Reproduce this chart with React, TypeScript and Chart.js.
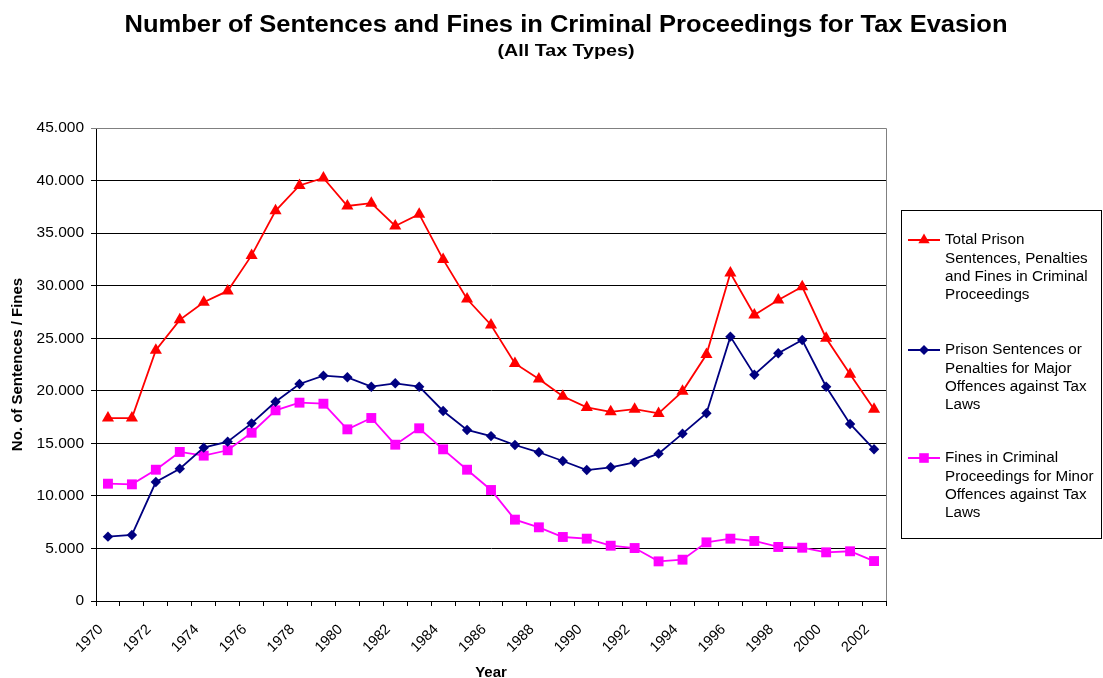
import React, { useEffect, useRef } from 'react';
import { Chart, registerables } from 'chart.js';

Chart.register(...registerables);

const years = [
  '1970', '1971', '1972', '1973', '1974', '1975', '1976', '1977', '1978', '1979', '1980',
  '1981', '1982', '1983', '1984', '1985', '1986', '1987', '1988', '1989', '1990', '1991',
  '1992', '1993', '1994', '1995', '1996', '1997', '1998', '1999', '2000', '2001', '2002',
];

const totalSentences = [
  17400, 17400, 23850, 26750, 28430, 29500, 32880, 37120, 39530, 40250, 37580,
  37850, 35680, 36800, 32500, 28730, 26260, 22600, 21120, 19480, 18420, 18000,
  18250, 17850, 19950, 23450, 31200, 27210, 28640, 29890, 25000, 21580, 18250,
];

const majorOffences = [
  6120, 6280, 11320, 12590, 14590, 15160, 16900, 18960, 20650, 21440, 21280,
  20390, 20710, 20390, 18080, 16270, 15690, 14840, 14150, 13320, 12460, 12720,
  13190, 14020, 15920, 17860, 25150, 21530, 23570, 24830, 20390, 16840, 14430,
];

const minorOffences = [
  11160, 11100, 12490, 14180, 13830, 14340, 16010, 18140, 18870, 18770, 16330,
  17410, 14870, 16430, 14430, 12490, 10560, 7740, 7010, 6090, 5930, 5260,
  5040, 3770, 3930, 5580, 5930, 5710, 5140, 5070, 4630, 4730, 3800,
];

const seriesNames = [
  ['Total Prison', 'Sentences, Penalties', 'and Fines in Criminal', 'Proceedings'],
  ['Prison Sentences or', 'Penalties for Major', 'Offences against Tax', 'Laws'],
  ['Fines in Criminal', 'Proceedings for Minor', 'Offences against Tax', 'Laws'],
];

const chartTitle = 'Number of Sentences and Fines in Criminal Proceedings for Tax Evasion';
const chartSubtitle = '(All Tax Types)';
const xAxisTitle = 'Year';
const yAxisTitle = 'No. of Sentences / Fines';

const FONT = '"Liberation Sans", Arial, Helvetica, sans-serif';

function drawMarker(ctx: CanvasRenderingContext2D, style: string, x: number, y: number, color: string) {
  ctx.save();
  ctx.fillStyle = color;
  ctx.beginPath();
  if (style === 'triangle') {
    const r = 6.5;
    ctx.moveTo(x, y - r);
    ctx.lineTo(x + r * 0.866, y + r * 0.5);
    ctx.lineTo(x - r * 0.866, y + r * 0.5);
    ctx.closePath();
  } else if (style === 'rectRot') {
    const r = 5;
    ctx.moveTo(x, y - r);
    ctx.lineTo(x + r, y);
    ctx.lineTo(x, y + r);
    ctx.lineTo(x - r, y);
    ctx.closePath();
  } else {
    const s = 4.8;
    ctx.rect(x - s, y - s, 2 * s, 2 * s);
  }
  ctx.fill();
  ctx.restore();
}

function drawStretchedText(ctx: CanvasRenderingContext2D, text: string, font: string, cx: number, cy: number, targetWidth: number) {
  ctx.save();
  ctx.font = font;
  ctx.textAlign = 'center';
  ctx.textBaseline = 'middle';
  ctx.fillStyle = '#000';
  const w = ctx.measureText(text).width;
  const sx = w > 0 ? targetWidth / w : 1;
  ctx.translate(cx, cy);
  ctx.scale(sx, 1);
  ctx.fillText(text, 0, 0);
  ctx.restore();
}

const titlePlugin = {
  id: 'customTitle',
  afterDraw(chart: any) {
    const ctx = chart.ctx as CanvasRenderingContext2D;
    drawStretchedText(ctx, chartTitle, `bold 23px ${FONT}`, 566, 26, 883);
    drawStretchedText(ctx, chartSubtitle, `bold 16px ${FONT}`, 566, 52, 137);
  },
};

const borderPlugin = {
  id: 'plotBorder',
  beforeDatasetsDraw(chart: any) {
    const { ctx, chartArea } = chart;
    ctx.save();
    ctx.strokeStyle = '#808080';
    ctx.lineWidth = 1;
    ctx.beginPath();
    ctx.moveTo(chartArea.left, chartArea.top + 0.5);
    ctx.lineTo(chartArea.right + 0.5, chartArea.top + 0.5);
    ctx.lineTo(chartArea.right + 0.5, chartArea.bottom);
    ctx.stroke();
    ctx.restore();
  },
};

const legendPlugin = {
  id: 'customLegend',
  afterDraw(chart: any) {
    const ctx = chart.ctx as CanvasRenderingContext2D;
    const boxX = 901.5, boxY = 210.5, boxW = 200, boxH = 328;
    ctx.save();
    ctx.strokeStyle = '#000';
    ctx.lineWidth = 1;
    ctx.strokeRect(boxX, boxY, boxW, boxH);
    const startYs = [240, 350, 458];
    const lineH = 18.4;
    chart.data.datasets.forEach((ds: any, i: number) => {
      const y = startYs[i];
      ctx.strokeStyle = ds.borderColor;
      ctx.lineWidth = 2;
      ctx.beginPath();
      ctx.moveTo(908, y);
      ctx.lineTo(940, y);
      ctx.stroke();
      drawMarker(ctx, ds.pointStyle, 924, y, ds.borderColor);
      ctx.fillStyle = '#000';
      ctx.font = `15.2px ${FONT}`;
      ctx.textAlign = 'left';
      ctx.textBaseline = 'middle';
      seriesNames[i].forEach((line, j) => {
        ctx.fillText(line, 945, y + j * lineH);
      });
    });
    ctx.restore();
  },
};

export default function App() {
  const canvasRef = useRef<HTMLCanvasElement | null>(null);

  useEffect(() => {
    if (!canvasRef.current) return;
    Chart.defaults.font.family = FONT;
    Chart.defaults.color = '#000';
    const chart = new Chart(canvasRef.current, {
      type: 'line',
      data: {
        labels: years,
        datasets: [
          {
            label: seriesNames[0].join(' '),
            data: totalSentences,
            borderColor: '#FF0000',
            backgroundColor: '#FF0000',
            pointStyle: 'triangle',
            pointRadius: 7,
            pointBorderWidth: 0,
            borderWidth: 1.8,
          },
          {
            label: seriesNames[1].join(' '),
            data: majorOffences,
            borderColor: '#000080',
            backgroundColor: '#000080',
            pointStyle: 'rectRot',
            pointRadius: 5.2,
            pointBorderWidth: 0,
            borderWidth: 1.8,
          },
          {
            label: seriesNames[2].join(' '),
            data: minorOffences,
            borderColor: '#FF00FF',
            backgroundColor: '#FF00FF',
            pointStyle: 'rect',
            pointRadius: 7,
            pointBorderWidth: 0,
            borderWidth: 1.8,
          },
        ],
      },
      options: {
        responsive: false,
        animation: false,
        layout: { padding: { top: 128, right: 217, bottom: 0, left: 0 } },
        plugins: {
          legend: { display: false },
          title: { display: false },
          tooltip: { enabled: false },
        },
        scales: {
          x: {
            offset: true,
            afterFit: (scale: any) => { scale.height = 77; },
            grid: {
              display: true,
              drawOnChartArea: false,
              drawTicks: true,
              tickLength: 5,
              color: '#000',
              offset: true,
            },
            border: { display: true, color: '#000', width: 1 },
            ticks: {
              autoSkip: false,
              maxRotation: 45,
              minRotation: 45,
              padding: 15,
              labelOffset: -7,
              font: { size: 14.5 },
              callback: (_v: any, i: number) => (i % 2 === 0 ? years[i] : ''),
            },
            title: {
              display: true,
              text: xAxisTitle,
              font: { size: 15, weight: 'bold', lineHeight: 0.7 },
              padding: { top: 0, bottom: 0 },
            },
          },
          y: {
            min: 0,
            max: 45000,
            afterFit: (scale: any) => { scale.width = 96; },
            grid: {
              color: (c: any) => (c.tick && c.tick.value === 45000 ? '#808080' : '#000'),
              tickLength: 5,
              drawTicks: true,
            },
            border: { display: true, color: '#000', width: 1 },
            ticks: {
              stepSize: 5000,
              padding: 7,
              font: { size: 15.5 },
              callback: (v: any) => Number(v).toLocaleString('de-DE'),
            },
            title: {
              display: true,
              text: yAxisTitle,
              font: { size: 15, weight: 'bold' },
              padding: { top: 9, bottom: 0 },
            },
          },
        },
      },
      plugins: [borderPlugin, titlePlugin, legendPlugin],
    } as any);
    return () => chart.destroy();
  }, []);

  return (
    <div style={{ position: 'fixed', left: 0, top: 0, width: 1103, height: 678, background: '#fff' }}>
      <canvas ref={canvasRef} width={1103} height={678} style={{ display: 'block' }} />
    </div>
  );
}
